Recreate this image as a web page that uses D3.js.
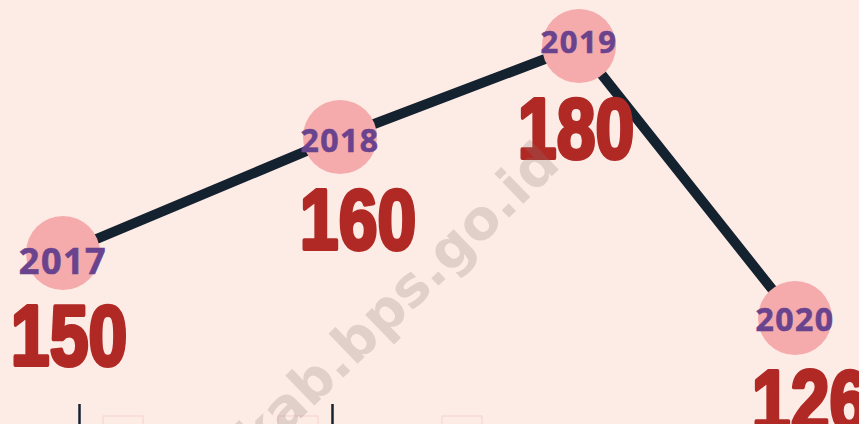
<!DOCTYPE html>
<html>
<head>
<meta charset="utf-8">
<script src="https://cdn.jsdelivr.net/npm/d3@7"></script>
<style>
  html, body { margin: 0; padding: 0; background: #fdebe6; }
  svg { display: block; }
</style>
</head>
<body>
<svg width="859" height="424"></svg>
<script>
// data
var years = [2017, 2018, 2019, 2020];
var values = [150, 160, 180, 126];

// layout (infographic, not drawn to scale)
var xStops = [63, 340, 579, 795];
var yStops = [318, 253, 137, 46];          // for sorted values 126,150,160,180
var yearSize = [36, 32, 31, 32];
var yearDy = [21, 15, 7, 13];
var valueDx = [6, 18, -3, 15];

var svg = d3.select('svg');
var W = 859, H = 424;

var x = d3.scaleLinear().domain(years).range(xStops);
var y = d3.scaleLinear().domain(values.slice().sort(d3.ascending)).range(yStops);

var pts = years.map(function (d, i) { return { year: d, value: values[i], i: i }; });

svg.append('rect').attr('width', W).attr('height', H).attr('fill', '#fdebe6');

// bits of the next panel peeking in at the bottom
svg.selectAll('.tick-line').data([79.5, 332.5]).enter().append('line')
  .attr('x1', function (d) { return d; }).attr('x2', function (d) { return d; })
  .attr('y1', 404).attr('y2', H)
  .attr('stroke', '#15222f').attr('stroke-width', 2.5);
svg.selectAll('.box').data([103, 278, 442]).enter().append('rect')
  .attr('x', function (d) { return d; }).attr('y', 416)
  .attr('width', 40).attr('height', 20)
  .attr('fill', 'none').attr('stroke', '#f7d2ca').attr('stroke-width', 1);

// line
var line = d3.line()
  .x(function (d) { return x(d.year); })
  .y(function (d) { return y(d.value); });
svg.append('path').datum(pts)
  .attr('d', line)
  .attr('fill', 'none')
  .attr('stroke', '#14212f')
  .attr('stroke-width', 10)
  .attr('stroke-linejoin', 'miter');

// circles
svg.selectAll('circle').data(pts).enter().append('circle')
  .attr('cx', function (d) { return x(d.year); })
  .attr('cy', function (d) { return y(d.value); })
  .attr('r', 37)
  .attr('fill', '#f5abab');

// year labels
svg.selectAll('.year').data(pts).enter().append('text')
  .attr('class', 'year')
  .attr('x', function (d) { return x(d.year); })
  .attr('y', function (d) { return y(d.value) + yearDy[d.i]; })
  .attr('text-anchor', 'middle')
  .attr('font-family', '"Open Sans", sans-serif')
  .attr('font-weight', 700)
  .attr('font-size', function (d) { return yearSize[d.i]; })
  .attr('letter-spacing', 1.5)
  .attr('fill', '#6a438e')
  .attr('stroke', '#6a438e')
  .attr('stroke-width', 0.6)
  .text(function (d) { return d.year; });

// value labels
svg.selectAll('.val').data(pts).enter().append('text')
  .attr('class', 'val')
  .attr('transform', function (d) {
    return 'translate(' + (x(d.year) + valueDx[d.i]) + ',' + (y(d.value) + 112) + ') scale(0.82,1)';
  })
  .attr('text-anchor', 'middle')
  .attr('font-family', '"Liberation Sans", Arial, sans-serif')
  .attr('font-weight', 700)
  .attr('font-size', 85)
  .attr('fill', '#b02925')
  .attr('stroke', '#b02925')
  .attr('stroke-width', 4)
  .attr('stroke-linejoin', 'round')
  .text(function (d) { return d.value; });

// watermark
svg.append('text')
  .attr('transform', 'translate(258,460) rotate(-44)')
  .attr('font-family', '"DejaVu Sans", sans-serif')
  .attr('font-weight', 700)
  .attr('font-size', 55)
  .attr('fill', '#8a7470')
  .attr('fill-opacity', 0.24)
  .text('kab.bps.go.id');
</script>
</body>
</html>
